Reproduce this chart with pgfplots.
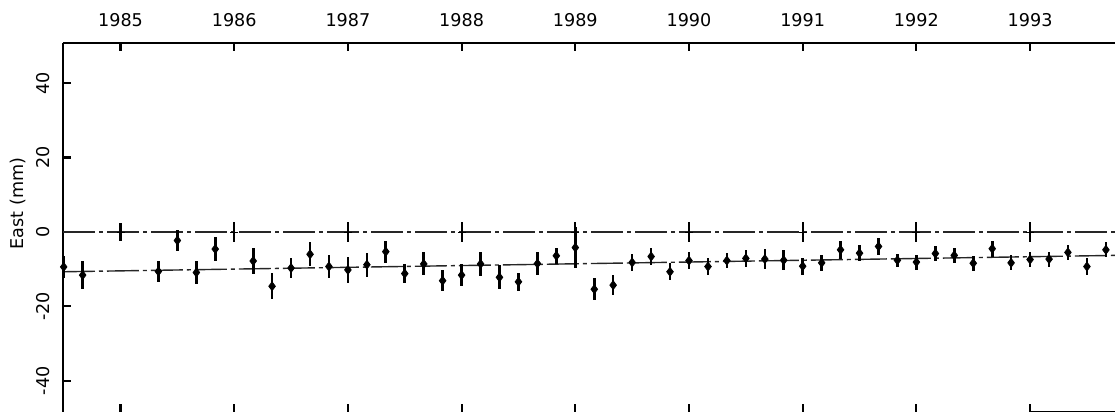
\documentclass[border=0pt]{standalone}
\usepackage{pgfplots}
\usepackage{pgfplotstable}
\usepackage{graphicx}
\usepackage{fontspec}
\setmainfont{DejaVu Sans}
\pgfplotsset{compat=1.18}
\usetikzlibrary{calc}

\pgfplotstableread{
x y e
1984.500 -9.4 3.0
1984.667 -11.6 3.7
1985.333 -10.6 2.8
1985.500 -2.3 2.9
1985.667 -10.9 3.2
1985.833 -4.6 3.2
1986.167 -7.8 3.4
1986.333 -14.6 3.5
1986.500 -9.7 2.7
1986.667 -6.0 3.2
1986.833 -9.3 3.2
1987.000 -10.2 3.4
1987.167 -8.8 3.2
1987.333 -5.3 3.0
1987.500 -11.2 2.6
1987.667 -8.6 3.1
1987.833 -13.1 2.8
1988.000 -11.6 2.9
1988.167 -8.6 3.3
1988.333 -12.2 3.2
1988.500 -13.4 2.5
1988.667 -8.5 3.2
1988.833 -6.4 2.2
1989.000 -4.2 5.4
1989.167 -15.4 3.0
1989.333 -14.3 2.7
1989.500 -8.2 2.3
1989.667 -6.6 2.4
1989.833 -10.7 2.3
1990.000 -7.7 2.3
1990.167 -9.3 2.2
1990.333 -7.7 2.1
1990.500 -7.1 2.3
1990.667 -7.3 2.6
1990.833 -7.6 2.7
1991.000 -9.2 2.3
1991.167 -8.3 2.1
1991.333 -4.8 2.4
1991.500 -5.7 2.1
1991.667 -3.9 2.3
1991.833 -7.6 1.8
1992.000 -8.1 2.0
1992.167 -5.8 1.9
1992.333 -6.3 2.0
1992.500 -8.4 2.0
1992.667 -4.5 2.1
1992.833 -8.3 2.0
1993.000 -7.4 2.0
1993.167 -7.3 2.0
1993.333 -5.5 2.0
1993.500 -9.3 2.3
1993.667 -4.8 2.0
}\eastdata

\pgfplotstableread{
x y e
1985 0 2.5
1986 0 2.7
1987 0 2.6
1988 0 2.6
1989 0 2.8
1990 0 2.6
1991 0 2.6
1992 0 2.6
1993 0 2.6
}\zerodata

\pgfplotstableread{
x y
1984.494 0
1993.747 0
}\zeroline

\pgfplotstableread{
x y
1984.494 -10.7
1993.747 -6.3
}\trend

\begin{document}
\begin{tikzpicture}
\pgfplotsset{
  common/.style={
    scale only axis,
    width=526pt, height=184.5pt,
    xmin=1984.494, xmax=1993.747,
    ymin=-48.4, ymax=50.8,
    xtick={1985,1986,1987,1988,1989,1990,1991,1992,1993},
    tick align=inside,
    major tick length=4.2pt,
    every tick/.style={black, line width=1.1pt},
  }
}
\begin{axis}[common,
  name=ax,
  clip=false,
  axis x line*=top,
  axis y line*=left,
  axis line style={black, line width=0.9pt},
  xticklabels={1985,1986,1987,1988,1989,1990,1991,1992,1993},
  ytick={-40,-20,0,20,40},
  yticklabels={-40,-20,0,20,40},
  xticklabel style={anchor=center, font=\fontsize{8.8}{10}\selectfont},
  xticklabel shift=11.5pt,
  yticklabel style={rotate=90, anchor=center, font=\fontsize{8.8}{10}\selectfont},
  yticklabel shift=10pt,
]
\addplot[black!85, line width=0.7pt, dash pattern=on 16pt off 2pt on 2pt off 2pt, forget plot] table[x=x,y=y]{\zeroline};
\addplot[black!85, line width=0.7pt, dash pattern=on 16pt off 2pt on 2pt off 2pt, forget plot] table[x=x,y=y]{\trend};
\addplot[only marks, mark=-, mark size=2pt, black,
  error bars/.cd, y dir=both, y explicit, error mark=none,
  error bar style={line width=1.1pt, black}]
  table[x=x, y=y, y error=e]{\zerodata};
\addplot[only marks, mark=diamond*, mark size=2.2pt, black,
  error bars/.cd, y dir=both, y explicit, error mark=none,
  error bar style={line width=1.3pt, black}]
  table[x=x, y=y, y error=e]{\eastdata};
\draw[black, line width=0.9pt] (axis cs:1993,-48.4) -- (axis cs:1993.747,-48.4);
\coordinate (bl) at (rel axis cs:0,0);
\coordinate (tr) at (rel axis cs:1,1);
\coordinate (yl) at (rel axis cs:0,0.565);
\end{axis}
\begin{axis}[common,
  axis x line*=bottom,
  axis y line=none,
  x axis line style={draw=none},
  xticklabels={},
  ytick=\empty,
]
\addplot[draw=none, forget plot] coordinates {(1985,0)};
\end{axis}
\node[rotate=90, font=\fontsize{8.8}{10}\selectfont] at ($(yl)+(-22.75pt,0)$) {East (mm)};
\pgfresetboundingbox
\path ($(bl)+(-31.5pt,0)$) rectangle ($(tr)+(0,21.5pt)$);
\end{tikzpicture}
\end{document}
